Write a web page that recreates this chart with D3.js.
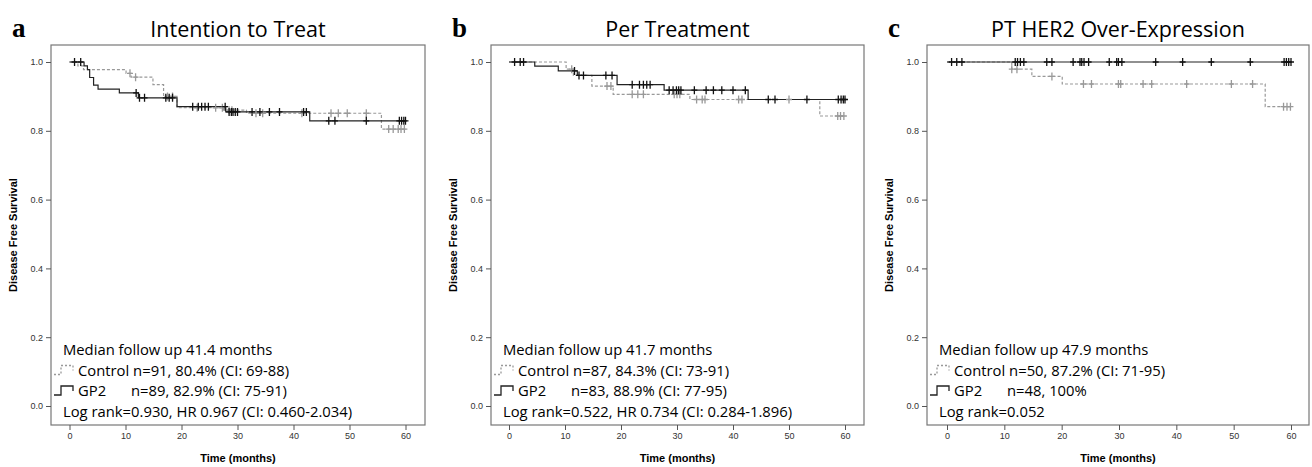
<!DOCTYPE html>
<html><head><meta charset="utf-8">
<script src="https://cdn.jsdelivr.net/npm/d3@7"></script>
<style>body{margin:0;background:#fff}</style>
</head><body>
<script>
// survival steps: [month, survival]
var itt_gp2 = [[0,1],[2.6,0.989],[3.2,0.978],[3.6,0.955],[4.3,0.933],[5.1,0.921],[8.9,0.910],[12.3,0.896],[19.2,0.870],[27.9,0.855],[42.9,0.829],[60,0.829]];
var itt_ctl = [[0,1],[1.5,0.989],[2.5,0.978],[10.1,0.967],[11.0,0.956],[14.9,0.934],[16.8,0.900],[19.2,0.867],[27.5,0.860],[31.6,0.851],[55.7,0.805],[60,0.805]];
var itt_gp2_cens = [0.9,2.0,11.9,12.5,13.4,17.2,17.8,18.4,22.0,23.0,23.6,24.2,24.8,27.8,28.5,28.9,29.2,29.6,30.0,32.6,34.0,35.7,37.5,41.8,42.3,46.3,47.4,53.0,58.9,59.3,59.7,60];
var itt_ctl_cens = [10.8,11.8,17.5,18.4,22.8,26.1,27.3,28.5,29.0,33.3,34.5,41.5,46.7,48.0,49.6,53.0,57.0,57.8,58.7,59.2,59.8];
var pt_gp2 = [[0,1],[4.6,0.988],[8.8,0.974],[12.2,0.961],[19.3,0.934],[27.7,0.918],[42.7,0.891],[60,0.891]];
var pt_ctl = [[0,1],[10.2,0.979],[11.5,0.961],[14.8,0.930],[18.6,0.906],[32.3,0.891],[55.5,0.843],[60,0.843]];
var pt_gp2_cens = [1.0,2.0,2.6,11.7,12.5,13.3,17.3,18.4,22.0,23.3,24.0,24.6,25.2,28.6,29.3,29.9,30.3,30.7,33.1,35.2,36.5,38.0,40.0,42.2,46.3,47.5,53.2,58.8,59.3,59.7,60];
var pt_ctl_cens = [11.2,17.5,18.2,22.0,23.0,24.0,29.5,30.0,30.5,33.5,34.5,35.0,41.0,41.6,50.0,58.7,59.2,59.8];
var her_gp2 = [[0,1],[60,1]];
var her_ctl = [[0,1],[11.3,0.979],[14.8,0.958],[20.1,0.936],[55.5,0.870],[60,0.870]];
var her_gp2_cens = [0.8,1.7,2.6,11.9,12.3,12.8,13.4,17.4,18.3,22.0,23.2,23.5,23.9,24.7,28.3,29.6,29.9,30.5,36.4,41.1,46.1,52.9,58.8,59.2,59.6,60];
var her_ctl_cens = [11.3,12.2,18.3,23.8,25.2,29.9,30.3,34.2,35.7,41.8,49.6,53.3,58.7,59.3,59.9];

var xTicks = [0,10,20,30,40,50,60];
var yTicks = [0,0.2,0.4,0.6,0.8,1.0];

var panels = [
  {letter:"a", title:"Intention to Treat", left:51, right:425, x0:69.5, x60:405.5, gp2:itt_gp2, ctl:itt_ctl, gc:itt_gp2_cens, cc:itt_ctl_cens,
   legend:["Median follow up 41.4 months","Control n=91, 80.4% (CI: 69-88)","GP2","n=89, 82.9% (CI: 75-91)","Log rank=0.930, HR 0.967 (CI: 0.460-2.034)"]},
  {letter:"b", title:"Per Treatment", left:491, right:864, x0:509, x60:845, gp2:pt_gp2, ctl:pt_ctl, gc:pt_gp2_cens, cc:pt_ctl_cens,
   legend:["Median follow up 41.7 months","Control n=87, 84.3% (CI: 73-91)","GP2","n=83, 88.9% (CI: 77-95)","Log rank=0.522, HR 0.734 (CI: 0.284-1.896)"]},
  {letter:"c", title:"PT HER2 Over-Expression", left:927, right:1309, x0:947, x60:1291, gp2:her_gp2, ctl:her_ctl, gc:her_gp2_cens, cc:her_ctl_cens,
   legend:["Median follow up 47.9 months","Control n=50, 87.2% (CI: 71-95)","GP2","n=48, 100%","Log rank=0.052"]}
];

var svg = d3.select("body").append("svg").attr("width",1312).attr("height",467);
var top0 = 45, bottom = 425;
var y = d3.scaleLinear().domain([0,1]).range([406,62]);

function stepAt(steps, t){
  var v = 1;
  steps.forEach(function(s){ if (s[0] <= t) v = s[1]; });
  return v;
}

panels.forEach(function(p){
  var g = svg.append("g");
  var x = d3.scaleLinear().domain([0,60]).range([p.x0,p.x60]);
  g.append("text").attr("x",p.left-39).attr("y",37).attr("font-family","Liberation Serif").attr("font-weight","bold").attr("font-size",27).text(p.letter);
  g.append("text").attr("x",(p.left+p.right)/2).attr("y",37).attr("text-anchor","middle").attr("font-family","Open Sans").attr("font-size",21.5).text(p.title);
  g.append("rect").attr("x",p.left).attr("y",top0).attr("width",p.right-p.left).attr("height",bottom-top0).attr("fill","none").attr("stroke","#777").attr("stroke-width",1.2);

  var xa = g.append("g").attr("transform","translate(0,"+bottom+")").call(d3.axisBottom(x).tickValues(xTicks).tickSize(5).tickSizeOuter(0));
  xa.select(".domain").remove();
  var ya = g.append("g").attr("transform","translate("+p.left+",0)").call(d3.axisLeft(y).tickValues(yTicks).tickFormat(d3.format(".1f")).tickSize(5));
  ya.select(".domain").remove();
  g.selectAll(".tick text").attr("font-family","Liberation Sans").attr("font-size",9).attr("fill","#333");
  g.selectAll(".tick line").attr("stroke","#555");

  g.append("text").attr("x",(p.left+p.right)/2).attr("y",462).attr("text-anchor","middle").attr("font-family","Liberation Sans").attr("font-weight","bold").attr("font-size",11).text("Time (months)");
  g.append("text").attr("transform","translate("+(p.left-34)+","+((top0+bottom)/2)+") rotate(-90)").attr("text-anchor","middle").attr("font-family","Liberation Sans").attr("font-weight","bold").attr("font-size",11).text("Disease Free Survival");

  var line = d3.line().curve(d3.curveStepAfter).x(function(d){return x(d[0]);}).y(function(d){return y(d[1]);});
  g.append("path").datum(p.ctl).attr("d",line).attr("fill","none").attr("stroke","#999").attr("stroke-width",1.2).attr("stroke-dasharray","3,2");
  g.append("path").datum(p.gp2).attr("d",line).attr("fill","none").attr("stroke","#222").attr("stroke-width",1.2);

  function cens(list, steps, col){
    g.selectAll(null).data(list).enter().append("path")
      .attr("d",function(t){var cx=x(t), cy=y(stepAt(steps,t)); return "M"+(cx-3)+","+cy+"H"+(cx+3)+"M"+cx+","+(cy-4)+"V"+(cy+4);})
      .attr("stroke",col).attr("stroke-width",1.3);
  }
  cens(p.cc, p.ctl, "#999");
  cens(p.gc, p.gp2, "#111");

  // legend
  var lx = p.left+12, ly = 355, dy = 20.5;
  var txt = function(s, xx, yy){ g.append("text").attr("x",xx).attr("y",yy).attr("font-family","Open Sans").attr("font-size",14.8).text(s); };
  txt(p.legend[0], lx, ly);
  txt(p.legend[1], lx+15, ly+dy);
  txt(p.legend[2], lx+15, ly+2*dy);
  txt(p.legend[3], lx+68, ly+2*dy);
  txt(p.legend[4], lx, ly+3*dy);
  var icon = function(yy, col, dash){
    g.append("path").attr("d","M"+(p.left+3)+","+(yy)+"H"+(p.left+10)+"V"+(yy-9)+"H"+(p.left+22)+"V"+(yy-4))
      .attr("fill","none").attr("stroke",col).attr("stroke-width",1.3).attr("stroke-dasharray",dash);
  };
  icon(ly+dy-1, "#999", "2,2");
  icon(ly+2*dy-1, "#222", null);
});
</script>
</body></html>
